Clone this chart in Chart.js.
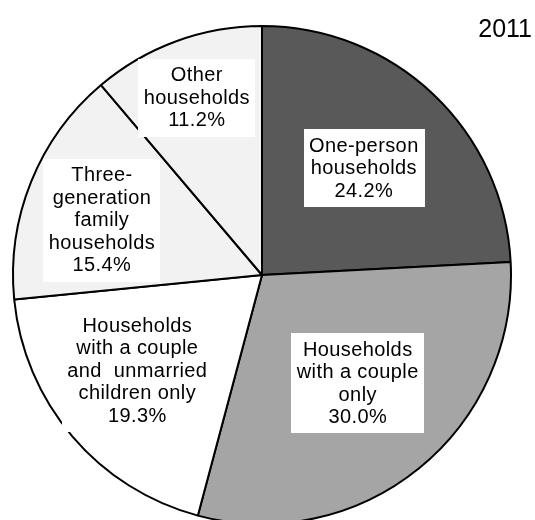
<!DOCTYPE html>
<html>
<head>
<meta charset="utf-8">
<script src="https://cdn.jsdelivr.net/npm/chart.js@4/dist/chart.umd.min.js"></script>
<style>
  html, body { margin: 0; padding: 0; background: #fff; }
  #wrap { position: relative; width: 535px; height: 520px; overflow: hidden; }
</style>
</head>
<body>
<div id="wrap"><canvas id="chart_households"></canvas></div>
<script>
// household types, clockwise from 12 o'clock
const categories = [
  ["One-person", "households"],
  ["Households", "with a couple", "only"],
  ["Households", "with a couple", "and  unmarried", "children only"],
  ["Three-", "generation", "family", "households"],
  ["Other", "households"]
];
const shares = [24.2, 30.0, 19.3, 15.4, 11.2];
const sliceColors = ["#595959", "#a5a5a5", "#ffffff", "#f2f2f2", "#f2f2f2"];
const yearLabel = "2011";

// where each label sits inside its slice (fraction of radius, angle nudge in degrees)
const labelDist = [0.594, 0.58, 0.63, 0.68, 0.76];
const labelTurn = [0, -2.5, 3, -3, 0];

const FONT = "20px 'Liberation Sans', Arial, sans-serif";
const LINE_H = 22.5;

// white boxed labels drawn over each slice
const sliceLabels = {
  id: "sliceLabels",
  afterDatasetsDraw(chart) {
    const ctx = chart.ctx;
    const arcs = chart.getDatasetMeta(0).data;
    ctx.save();
    ctx.font = FONT;
    ctx.letterSpacing = "0.4px";
    ctx.textAlign = "center";
    ctx.textBaseline = "middle";
    arcs.forEach((arc, i) => {
      const p = arc.getProps(["x", "y", "startAngle", "endAngle", "outerRadius"], true);
      const mid = (p.startAngle + p.endAngle) / 2 + labelTurn[i] * Math.PI / 180;
      const cx = p.x + Math.cos(mid) * p.outerRadius * labelDist[i];
      const cy = p.y + Math.sin(mid) * p.outerRadius * labelDist[i];
      const lines = categories[i].concat([shares[i].toFixed(1) + "%"]);
      const w = Math.max(...lines.map(l => ctx.measureText(l).width));
      const h = lines.length * LINE_H;
      ctx.fillStyle = "#ffffff";
      ctx.fillRect(Math.round(cx - w / 2 - 5.5), Math.round(cy - h / 2 - 5), Math.round(w + 11), Math.round(h + 10));
      ctx.fillStyle = "#000000";
      lines.forEach((l, k) => {
        ctx.fillText(l, cx, cy - h / 2 + LINE_H * (k + 0.5) + 1);
      });
    });
    // year in the top right corner
    ctx.font = "25px 'Liberation Sans', Arial, sans-serif";
    ctx.letterSpacing = "0px";
    ctx.textAlign = "right";
    ctx.textBaseline = "alphabetic";
    ctx.fillText(yearLabel, 532, 37);
    ctx.restore();
  }
};

const chart = new Chart(document.getElementById("chart_households"), {
  type: "pie",
  data: {
    labels: categories.map(c => c.join(" ")),
    datasets: [{
      data: shares,
      backgroundColor: sliceColors,
      borderColor: "#000000",
      borderWidth: 2,
      clip: false
    }]
  },
  options: {
    responsive: true,
    maintainAspectRatio: false,
    animation: false,
    radius: 249,
    layout: { padding: { top: 30, right: 11, bottom: 0, left: 0 } },
    plugins: {
      legend: { display: false },
      title: { display: false },
      tooltip: { enabled: false }
    }
  },
  plugins: [sliceLabels]
});
</script>
</body>
</html>
